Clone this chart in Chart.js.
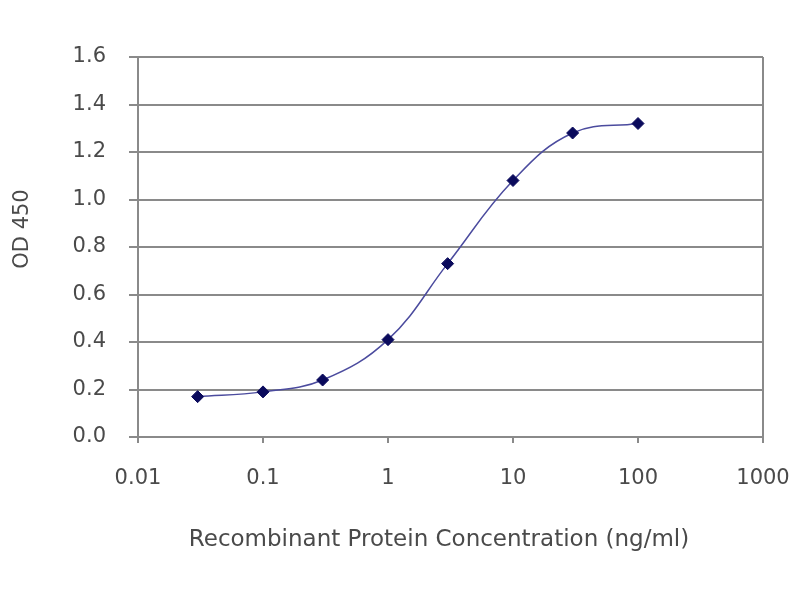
<!DOCTYPE html>
<html>
<head>
<meta charset="utf-8">
<script src="https://cdn.jsdelivr.net/npm/chart.js@4/dist/chart.umd.min.js"></script>
<style>
  html, body { margin: 0; padding: 0; background: #fff; }
  #wrap { width: 800px; height: 600px; }
</style>
</head>
<body>
<div id="wrap"><canvas id="elisa" width="800" height="600"></canvas></div>
<script>
// concentration (ng/ml) and OD 450
var conc = [0.03, 0.1, 0.3, 1, 3, 10, 30, 100];
var od450 = [0.17, 0.19, 0.24, 0.41, 0.73, 1.08, 1.28, 1.32];
var xTicks = [0.01, 0.1, 1, 10, 100, 1000];
var xTickLabels = ['0.01', '0.1', '1', '10', '100', '1000'];
var yTitle = 'OD 450';
var xTitle = 'Recombinant Protein Concentration (ng/ml)';

var textColor = '#4a4a4a';
var gridColor = '#8a8a8a';
var fontFamily = '"DejaVu Sans", "Liberation Sans", Arial, sans-serif';

var points = conc.map(function(c, i) { return { x: c, y: od450[i] }; });

// axis titles sit a little off-centre in the original, so draw them by hand
var titlesPlugin = {
    id: 'axisTitles',
    afterDraw: function(chart) {
        var c = chart.ctx;
        c.save();
        c.fillStyle = textColor;
        c.textAlign = 'center';
        c.textBaseline = 'middle';
        c.font = '23px ' + fontFamily;
        c.fillText(xTitle, 439, 540);
        c.translate(23, 229);
        c.rotate(-Math.PI / 2);
        c.font = '21px ' + fontFamily;
        c.fillText(yTitle, 0, 0);
        c.restore();
    }
};

var ctx = document.getElementById('elisa');
var chart = new Chart(ctx, {
    type: 'line',
    data: {
        datasets: [{
            label: yTitle,
            data: points,
            borderColor: '#4b4b9e',
            borderWidth: 1.5,
            tension: 0.4,
            pointStyle: 'rectRot',
            pointRadius: 6,
            pointBackgroundColor: '#0a0a5c',
            pointBorderColor: '#0a0a5c',
            pointBorderWidth: 1,
            fill: false
        }]
    },
    plugins: [titlesPlugin],
    options: {
        responsive: false,
        animation: false,
        devicePixelRatio: 1,
        layout: {
            padding: { left: 12, top: 57, right: 37, bottom: 45 }
        },
        plugins: {
            legend: { display: false },
            tooltip: { enabled: false }
        },
        scales: {
            x: {
                type: 'logarithmic',
                min: 0.01,
                max: 1000,
                afterBuildTicks: function(scale) {
                    scale.ticks = xTicks.map(function(v) { return { value: v }; });
                },
                afterFit: function(scale) {
                    scale.height = 118;
                    scale.paddingLeft = 0;
                    scale.paddingRight = 0;
                },
                ticks: {
                    autoSkip: false,
                    maxRotation: 0,
                    padding: 23,
                    color: textColor,
                    font: { family: fontFamily, size: 21 },
                    callback: function(value, index) {
                        return xTickLabels[index];
                    }
                },
                grid: {
                    drawOnChartArea: true,
                    lineWidth: 2,
                    tickLength: 6,
                    tickColor: gridColor,
                    color: function(c) {
                        return c.index === xTicks.length - 1 ? gridColor : 'rgba(0,0,0,0)';
                    }
                },
                border: { color: gridColor, width: 2 },
                title: { display: false }
            },
            y: {
                min: 0,
                max: 1.6,
                afterFit: function(scale) {
                    scale.width = 126;
                    scale.paddingTop = 0;
                    scale.paddingBottom = 0;
                },
                ticks: {
                    stepSize: 0.2,
                    padding: 23,
                    color: textColor,
                    font: { family: fontFamily, size: 21 },
                    callback: function(value) {
                        return Number(value).toFixed(1);
                    }
                },
                grid: {
                    color: gridColor,
                    lineWidth: 2,
                    tickLength: 9
                },
                border: { color: gridColor, width: 2 },
                title: { display: false }
            }
        }
    }
});
</script>
</body>
</html>
